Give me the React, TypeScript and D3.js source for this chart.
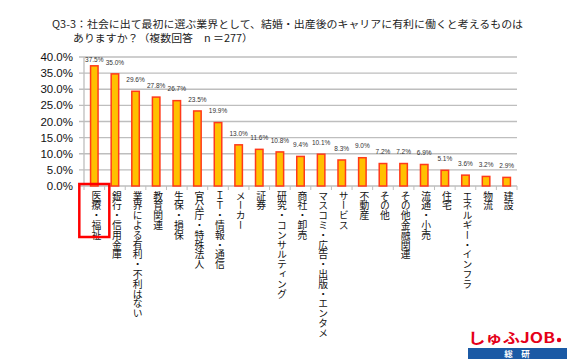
import React from "react";
import * as d3 from "d3";

const categories = [
  "医療・福祉",
  "銀行・信用金庫",
  "業界による有利・不利はない",
  "教育関連",
  "生保・損保",
  "官公庁・特殊法人",
  "ＩＴ・情報・通信",
  "メーカー",
  "証券",
  "研究・コンサルティング",
  "商社・卸売",
  "マスコミ・広告・出版・エンタメ",
  "サービス",
  "不動産",
  "その他",
  "その他金融関連",
  "流通・小売",
  "住宅",
  "エネルギー・インフラ",
  "物流",
  "建設",
];
const values = [37.5, 35.0, 29.6, 27.8, 26.7, 23.5, 19.9, 13.0, 11.6, 10.8, 9.4, 10.1, 8.3, 9.0, 7.2, 7.2, 6.9, 5.1, 3.6, 3.2, 2.9];
const yTicks = [0, 5, 10, 15, 20, 25, 30, 35, 40];
const titleLine1 = "Q3-3：社会に出て最初に選ぶ業界として、結婚・出産後のキャリアに有利に働くと考えるものは";
const titleLine2 = "ありますか？（複数回答　n ＝277）";
const highlighted = "医療・福祉";

export default function App() {
  const W = 570, H = 360;
  const left = 84, right = 517, top = 57, bottom = 186;
  const x = d3.scaleBand<string>().domain(categories).range([left, right]).paddingInner(0).paddingOuter(0);
  const y = d3.scaleLinear().domain([0, 40]).range([bottom, top]);
  const barW = 9;
  const jp = "'Noto Sans CJK JP', 'Noto Sans', sans-serif";
  const lat = "'Liberation Sans', Arial, sans-serif";
  const hiIdx = categories.indexOf(highlighted);
  const hiX = (x(categories[hiIdx]) as number) + x.bandwidth() / 2;

  return (
    <svg width={W} height={H} style={{ position: "absolute", left: 0, top: 0, background: "#fff" }}>
      <text x={52} y={27.5} fontFamily={jp} fontSize={10} fill="#222" textLength={471} lengthAdjust="spacingAndGlyphs">{titleLine1}</text>
      <text x={73} y={42} fontFamily={jp} fontSize={10} fill="#222" textLength={180} lengthAdjust="spacingAndGlyphs">{titleLine2}</text>

      {yTicks.map((t) => (
        <g key={t}>
          <line x1={left - 5} x2={right} y1={y(t)} y2={y(t)} stroke="#BEBEBE" strokeWidth={1.3} />
          <text x={73} y={y(t) + 4} textAnchor="end" fontFamily={lat} fontSize={11.5} fill="#111">{t.toFixed(1)}%</text>
        </g>
      ))}
      <line x1={left} x2={left} y1={top} y2={bottom} stroke="#BEBEBE" strokeWidth={1.3} />
      {categories.map((c, i) => (
        <line key={"tk" + i} x1={(x(c) as number)} x2={(x(c) as number)} y1={bottom} y2={bottom + 4} stroke="#BEBEBE" strokeWidth={1} />
      ))}
      <line x1={right} x2={right} y1={bottom} y2={bottom + 4} stroke="#BEBEBE" strokeWidth={1} />

      {categories.map((c, i) => {
        const cx = (x(c) as number) + x.bandwidth() / 2;
        const v = values[i];
        const barTop = y(v);
        const ly = Math.max(barTop - 8.5, 61.5);
        return (
          <g key={c}>
            <rect x={cx - barW / 2 + 0.75} y={barTop + 0.75} width={barW - 1.5} height={bottom - barTop - 0.75} fill="#FFC000" stroke="#FF3A1A" strokeWidth={1.5} />
            <text x={cx} y={ly} textAnchor="middle" fontFamily={lat} fontSize={6.5} fill="#333">{v.toFixed(1)}%</text>
            <text x={cx + 2} y={191} fontFamily={jp} fontSize={9.8} fill="#111" style={{ writingMode: "vertical-rl" } as any}>{c}</text>
          </g>
        );
      })}

      <rect x={hiX - 15} y={184} width={30} height={53} fill="none" stroke="#FF0000" strokeWidth={2.5} />

      <text x={468} y={343} fontFamily={jp} fontSize={14} fontWeight="bold" fill="#E50019" textLength={87} lengthAdjust="spacingAndGlyphs">しゅふJOB</text>
      <circle cx={559} cy={340} r={2.2} fill="#E50019" />
      <rect x={468} y={348} width={99} height={11} fill="#1B5AA5" />
      <text x={517} y={357} textAnchor="middle" fontFamily={jp} fontSize={8.5} fontWeight="bold" fill="#fff">総　研</text>
    </svg>
  );
}
